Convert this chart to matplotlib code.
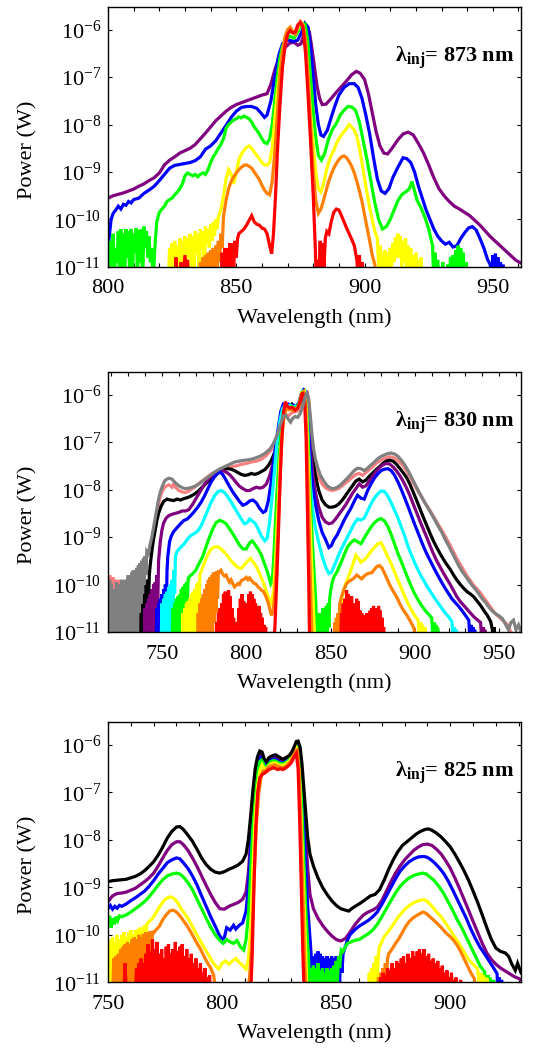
"""Supercontinuum-style spectra for three injection wavelengths (log power vs wavelength)."""

import matplotlib
matplotlib.use("Agg")
import matplotlib.pyplot as plt
import numpy as np
from matplotlib.ticker import MultipleLocator, LogLocator, NullLocator

plt.rcParams["font.family"] = "serif"
plt.rcParams["font.serif"] = ["Liberation Serif", "DejaVu Serif"]
plt.rcParams["mathtext.fontset"] = "custom"
plt.rcParams["mathtext.rm"] = "Liberation Serif"
plt.rcParams["mathtext.it"] = "Liberation Serif:italic"
plt.rcParams["mathtext.bf"] = "Liberation Serif:bold"

# colours used for the power steps
RED, ORANGE, YELLOW, GREEN = "#ff0000", "#ff8000", "#ffff00", "#00ff00"
CYAN, BLUE, PURPLE, BLACK = "#00ffff", "#0000ff", "#800080", "#000000"
SALMON, GRAY = "#f88080", "#808080"

# ---------------- panel 1 : lambda_inj = 873 nm  (wavelength nm, log10 W) ----------------
TOP_PURPLE = [(800,-9.55),(802,-9.50),(804,-9.47),(806,-9.44),(808,-9.40),(810,-9.36),(812,-9.30),(814,-9.25),
    (816,-9.18),(818,-9.12),(820,-9.02),(822,-8.85),(824,-8.75),(826,-8.68),(828,-8.60),(830,-8.55),(832,-8.50),
    (834,-8.42),(836,-8.30),(838,-8.18),(840,-8.05),(842,-7.92),(844,-7.82),(846,-7.72),(848,-7.64),(850,-7.58),
    (852,-7.54),(854,-7.50),(856,-7.46),(858,-7.42),(860,-7.38),(862,-7.35),(863.5,-7.15),(865,-6.85),(866.5,-6.62),
    (868,-6.45),(869.5,-6.35),(871,-6.28),(872.5,-6.27),(874,-6.33),(875.2,-6.30),(876.3,-6.12),(877.5,-5.95),
    (878.5,-6.05),(879.5,-6.40),(880.5,-6.80),(881.5,-7.20),(882.5,-7.45),(883.5,-7.58),(885,-7.57),(887,-7.45),
    (889,-7.32),(891,-7.20),(893,-7.08),(895,-6.95),(896.8,-6.88),(898.3,-6.92),(900,-7.05),(901.5,-7.35),
    (903,-7.75),(904.5,-8.15),(906,-8.45),(907.5,-8.60),(909,-8.62),(911,-8.48),(913,-8.32),(915,-8.20),
    (917,-8.16),(919,-8.22),(921,-8.40),(923,-8.60),(925,-8.85),(927,-9.12),(929,-9.35),(931,-9.50),(933,-9.62),
    (935,-9.72),(937,-9.78),(939,-9.85),(941,-9.92),(943,-10.02),(945,-10.12),(947,-10.24),(949,-10.36),
    (951,-10.46),(953,-10.56),(955,-10.66),(957,-10.76),(959,-10.86),(961,-10.92)]
TOP_BLUE = [(800,-10.6),(800.6,-10.3),(801.2,-10.0),(802,-9.87),(803,-9.80),(804,-9.72),(805,-9.78),(806,-9.68),
    (807,-9.70),(808,-9.62),(809,-9.65),(810,-9.58),(812,-9.55),(814,-9.45),(816,-9.38),(818,-9.30),(820,-9.18),
    (822,-9.05),(824,-8.92),(826,-8.86),(828,-8.84),(830,-8.82),(832,-8.80),(834,-8.76),(836,-8.68),(838,-8.52),
    (840,-8.45),(842,-8.34),(844,-8.18),(846,-8.02),(848,-7.85),(850,-7.72),(852,-7.64),(854,-7.62),(856,-7.62),
    (858,-7.66),(859.5,-7.75),(861,-7.85),(862,-7.80),(863.5,-7.50),(865,-7.00),(866.5,-6.55),(868,-6.30),
    (869.5,-6.22),(871,-6.23),(872.5,-6.25),(874,-6.22),(875.5,-6.05),(876.8,-5.87),(878,-5.95),(879,-6.40),
    (880,-7.00),(881,-7.60),(882,-8.00),(883,-8.22),(884,-8.25),(885.5,-8.12),(887,-7.85),(888.5,-7.60),
    (890,-7.38),(892,-7.22),(894,-7.14),(896,-7.14),(897.5,-7.22),(899,-7.45),(900.5,-7.80),(902,-8.20),
    (903.5,-8.70),(905,-9.15),(906.5,-9.40),(908,-9.45),(909.5,-9.35),(911,-9.12),(913,-8.90),(915,-8.70),
    (916.5,-8.72),(918,-8.80),(919.5,-9.00),(921,-9.30),(922.5,-9.55),(924,-9.80),(925.5,-10.0),(927,-10.20),
    (928.5,-10.35),(930,-10.45),(931.5,-10.52),(933,-10.48),(934.5,-10.58),(936,-10.55),(937.5,-10.40),
    (939,-10.28),(940.5,-10.18),(942,-10.15),(943.5,-10.22),(945,-10.40),(946.5,-10.60),(948,-10.85),
    (949,-10.95),(949.5,-11.3),(950,-10.75),(950.5,-11.3),(951,-10.72),(951.5,-11.3),(952,-10.8),(952.5,-11.3),
    (953,-10.9),(953.5,-11.3),(954,-10.95),(955,-11.3)]
TOP_GREEN = [(800,-10.55),(800.5,-11.3),(801,-10.45),(801.5,-11.3),(802,-10.3),(802.5,-11.3),(803,-10.6),
    (803.5,-10.9),(804,-10.25),(804.5,-11.3),(805,-10.2),(805.5,-11.3),(806,-10.3),(806.5,-11.3),(807,-10.2),
    (807.5,-10.8),(808,-10.25),(808.5,-11.3),(809,-10.2),(809.5,-11.3),(810,-10.3),(810.5,-10.7),(811,-10.18),
    (811.5,-11.3),(812,-10.22),(812.5,-10.9),(813,-10.2),(813.5,-11.3),(814,-10.15),(814.5,-10.6),(815,-10.25),
    (815.5,-10.8),(816,-10.35),(816.5,-10.9),(817,-10.6),(817.5,-11.3),(818,-10.85),(818.5,-10.4),(819,-10.05),
    (820,-9.85),(821,-9.78),(822,-9.72),(823,-9.62),(824,-9.58),(825,-9.55),(826,-9.48),(827,-9.42),(828,-9.35),
    (829,-9.25),(830,-9.08),(831,-9.02),(832,-9.05),(833,-9.08),(834,-9.05),(835,-9.10),(836,-9.05),(837,-9.02),
    (838,-9.05),(839,-8.95),(840,-8.80),(841,-8.68),(842,-8.60),(843,-8.50),(844,-8.42),(845,-8.30),(846,-8.08),
    (847,-8.00),(848,-7.95),(849,-7.90),(850,-7.88),(851,-7.84),(852,-7.86),(853,-7.82),(854,-7.85),(855,-7.88),
    (856,-7.95),(857,-8.05),(858,-8.12),(859,-8.20),(860,-8.30),(861,-8.38),(862,-8.40),(863,-8.30),(864,-8.00),
    (865,-7.50),(866,-7.00),(867,-6.60),(868,-6.35),(869.5,-6.20),(871,-6.14),(872.5,-6.18),(874,-6.05),
    (875.5,-5.88),(876.8,-5.88),(877.8,-6.20),(878.8,-6.90),(879.8,-7.60),(880.8,-8.20),(882,-8.65),(883.2,-8.75),
    (884.5,-8.60),(886,-8.30),(887.5,-8.10),(889,-7.98),(890.5,-7.80),(892,-7.70),(893.5,-7.62),(895,-7.63),
    (896.5,-7.70),(898,-7.95),(899.5,-8.35),(901,-8.75),(902.5,-9.20),(904,-9.65),(905.5,-10.00),(907,-10.20),
    (908.5,-10.15),(910,-10.00),(911.5,-9.80),(913,-9.60),(914.5,-9.48),(916,-9.42),(917.5,-9.35),(918.5,-9.20),
    (919.5,-9.40),(920.5,-9.60),(922,-9.75),(923.5,-9.95),(925,-10.20),(926.5,-10.55),(927,-11.3),(927.5,-10.7),
    (928,-11.3),(928.5,-10.85),(929,-11.3),(929.5,-11.0),(930,-11.3),(930.5,-10.9),(931,-11.3),(932,-11.3),
    (932.5,-10.95),(933,-11.3),(933.5,-10.8),(934,-11.3),(934.5,-10.75),(935,-11.3),(935.5,-10.65),(936,-11.3),
    (936.5,-10.55),(937,-11.3),(937.5,-10.6),(938,-11.3),(938.5,-10.7),(939,-11.3),(939.5,-10.9),(940,-11.3)]
TOP_YELLOW = [(823.5,-11.4),(824,-10.6),(824.5,-11.3),(825,-10.5),(825.5,-11.3),(826,-10.45),(826.5,-11.3),
    (827,-10.55),(827.5,-11.3),(828,-10.4),(828.5,-10.9),(829,-10.45),(829.5,-11.3),(830,-10.35),(830.5,-11.3),
    (831,-10.4),(831.5,-10.8),(832,-10.3),(832.5,-11.3),(833,-10.35),(833.5,-11.3),(834,-10.25),(834.5,-10.7),
    (835,-10.3),(835.5,-11.3),(836,-10.2),(836.5,-10.6),(837,-10.25),(837.5,-11.3),(838,-10.15),(838.5,-10.5),
    (839,-10.2),(839.5,-10.6),(840,-10.1),(840.5,-10.45),(841,-10.05),(841.5,-10.35),(842,-10.0),(842.5,-10.2),
    (843,-9.95),(844,-9.80),(845,-9.50),(846,-9.15),(847,-8.95),(848,-9.05),(849,-9.25),(850,-9.0),(851,-8.75),
    (852,-8.62),(853,-8.55),(854,-8.48),(855,-8.45),(856,-8.50),(857,-8.58),(858,-8.65),(859,-8.72),(860,-8.80),
    (861,-8.85),(862,-8.86),(863,-8.80),(864,-8.50),(865,-7.90),(866,-7.30),(867,-6.85),(868,-6.50),(869,-6.25),
    (870,-6.08),(871,-6.00),(872,-6.05),(873,-6.08),(874,-5.97),(875,-5.85),(876,-5.90),(877,-6.25),(878,-7.00),
    (879,-7.80),(880,-8.45),(881,-9.00),(882,-9.35),(883,-9.42),(884,-9.25),(885,-9.00),(886,-8.80),(887,-8.65),
    (888,-8.55),(889,-8.40),(890,-8.30),(891,-8.22),(892,-8.15),(893,-8.08),(894,-8.00),(895,-8.05),(896,-8.12),
    (897,-8.25),(898,-8.50),(899,-8.80),(900,-9.15),(901,-9.45),(902,-9.75),(903,-10.00),(904,-10.25),
    (905,-10.40),(905.5,-11.0),(906,-10.55),(906.5,-11.3),(907,-10.7),(907.5,-11.3),(908,-10.65),(908.5,-11.3),
    (909,-10.7),(909.5,-11.3),(910,-10.6),(910.5,-11.0),(911,-10.5),(911.5,-10.9),(912,-10.38),(912.5,-10.8),
    (913,-10.3),(913.5,-10.8),(914,-10.35),(914.5,-11.0),(915,-10.45),(915.5,-10.9),(916,-10.4),(916.5,-11.3),
    (917,-10.55),(917.5,-11.3),(918,-10.6),(918.5,-11.3),(919,-10.75),(919.5,-11.3),(920,-10.7),(920.5,-11.3),
    (921,-10.85),(921.5,-11.3),(922,-10.8),(922.5,-11.3),(923,-11.4)]
TOP_ORANGE = [(835.5,-11.4),(836,-10.9),(836.5,-11.3),(837,-10.8),(837.5,-11.3),(838,-10.75),(838.5,-11.3),
    (839,-10.7),(839.5,-11.3),(840,-10.65),(840.5,-11.3),(841,-10.6),(841.5,-11.3),(842,-10.55),(842.5,-11.0),
    (843,-10.45),(843.5,-10.9),(844,-10.3),(844.5,-10.6),(845,-9.95),(846,-9.60),(847,-9.35),(848,-9.20),
    (849,-9.10),(850,-9.02),(851,-8.95),(852,-8.90),(853,-8.86),(854,-8.85),(855,-8.88),(856,-8.92),(857,-9.00),
    (858,-9.08),(859,-9.16),(860,-9.28),(861,-9.38),(862,-9.45),(863,-9.48),(864,-9.20),(865,-8.60),(866,-7.80),
    (867,-6.95),(868,-6.45),(869,-6.15),(870,-6.00),(871,-5.95),(872,-6.05),(873,-6.10),(874,-5.95),(875,-5.83),
    (876,-5.90),(877,-6.20),(878,-7.00),(879,-8.00),(880,-9.00),(881,-9.60),(882,-9.87),(883,-9.78),(884,-9.60),
    (885,-9.40),(886,-9.20),(887,-9.05),(888,-8.92),(889,-8.82),(890,-8.74),(891,-8.68),(892,-8.66),(893,-8.70),
    (894,-8.78),(895,-8.88),(896,-9.02),(897,-9.20),(898,-9.40),(899,-9.62),(900,-9.90),(901,-10.18),
    (902,-10.45),(903,-10.75),(904,-10.95),(905,-11.4)]
TOP_RED = [(826,-11.4),(826.5,-10.8),(827,-11.4),(828,-11.4),(828.5,-10.9),(829,-11.4),(830,-10.75),
    (830.5,-11.4),(831,-10.85),(831.5,-11.4),(838,-11.4),(838.5,-11.1),(839,-11.4),(844,-11.4),(844.5,-10.7),
    (845,-11.3),(845.5,-10.6),(846,-11.3),(846.5,-10.6),(847,-11.3),(847.5,-10.5),(848,-11.3),(848.5,-10.5),
    (849,-11.0),(849.5,-10.45),(850,-10.8),(850.5,-10.4),(851,-10.3),(852,-10.25),(853,-10.20),(854,-10.12),
    (855,-10.02),(856,-9.92),(857,-10.05),(858,-10.10),(859,-10.12),(860,-10.18),(861,-10.20),(862,-10.30),
    (863,-10.55),(863.8,-10.72),(864.5,-10.30),(865.3,-9.50),(866,-8.60),(867,-7.60),(868,-6.80),(869,-6.35),
    (870,-6.10),(871,-6.02),(872,-6.07),(873,-6.05),(874,-5.90),(875,-5.85),(876,-5.95),(877,-6.50),(878,-7.40),
    (879,-8.40),(880,-9.50),(880.8,-10.60),(881.2,-11.3),(881.7,-10.85),(882.2,-11.3),(882.7,-10.45),
    (883.2,-11.3),(883.7,-10.5),(884.2,-11.0),(884.7,-10.4),(885.3,-10.25),(886.1,-10.30),(887,-10.05),
    (888,-9.85),(889,-9.78),(890,-9.80),(891,-9.92),(892,-10.05),(893,-10.18),(894,-10.30),(895,-10.42),
    (896,-10.55),(897,-10.85),(897.5,-11.3),(898,-10.75),(898.5,-11.3),(899,-10.9),(899.5,-11.3),(900,-11.0),
    (900.5,-11.4)]

# ---------------- panel 2 : lambda_inj = 830 nm ----------------
MID_GRAY = [(718,-10.3),(718.5,-11.3),(719,-9.9),(719.5,-11.3),(720,-10.0),(720.5,-11.3),(721,-10.2),
    (721.5,-11.3),(722,-10.1),(722.5,-11.3),(723,-9.95),(723.5,-11.3),(724,-10.3),(724.5,-11.3),(725,-10.0),
    (725.5,-11.3),(726,-9.9),(726.5,-11.3),(727,-10.1),(727.5,-11.3),(728,-9.9),(728.5,-11.3),(729,-9.95),
    (729.5,-11.3),(730,-9.8),(730.5,-11.3),(731,-9.85),(731.5,-11.3),(732,-9.75),(732.5,-11.0),(733,-9.7),
    (733.5,-11.3),(734,-9.75),(734.5,-10.8),(735,-9.65),(735.5,-11.3),(736,-9.6),(736.5,-10.6),(737,-9.55),
    (737.5,-10.4),(738,-9.5),(738.5,-10.2),(739,-9.45),(739.5,-10.0),(740,-9.4),(740.5,-9.8),(741,-9.3),
    (742,-9.35),(743,-9.15),(744,-9.0),(745,-8.8),(746,-8.6),(747,-8.4),(748,-8.2),(749,-8.05),(750,-7.95),
    (751,-7.86),(752,-7.80),(753,-7.78),(754,-7.76),(755,-7.77),(756,-7.78),(757,-7.82),(758,-7.86),(760,-7.92),
    (762,-7.96),(764,-7.98),(766,-7.97),(768,-7.95),(770,-7.92),(772,-7.88),(775,-7.80),(778,-7.72),(781,-7.64),
    (784,-7.57),(787,-7.52),(790,-7.47),(793,-7.42),(796,-7.40),(799,-7.38),(802,-7.37),(805,-7.34),(808,-7.30),
    (811,-7.24),(814,-7.15),(816,-7.04),(818,-6.88),(820,-6.66),(822,-6.45),(823.5,-6.44),(825,-6.52),
    (826.3,-6.58),(827.5,-6.50),(829,-6.46),(830.5,-6.48),(832,-6.40),(833.5,-6.25),(835,-6.05),(836,-5.95),
    (837,-6.10),(838,-6.45),(839,-6.85),(840,-7.15),(841,-7.35),(842.5,-7.55),(844,-7.70),(846,-7.82),(848,-7.92),
    (850,-7.97),(852,-7.98),(854,-7.95),(856,-7.90),(858,-7.83),(860,-7.76),(862,-7.68),(864,-7.60),(866,-7.55),
    (868,-7.56),(870,-7.60),(872,-7.55),(874,-7.48),(876,-7.42),(878,-7.35),(880,-7.30),(882,-7.27),(884,-7.24),
    (886,-7.23),(888,-7.25),(890,-7.30),(892,-7.38),(894,-7.48),(896,-7.60),(898,-7.74),(900,-7.88),(902,-8.02),
    (904,-8.15),(906,-8.28),(908,-8.40),(910,-8.52),(912,-8.65),(914,-8.78),(916,-8.90),(918,-9.05),(920,-9.18),
    (922,-9.32),(924,-9.46),(926,-9.60),(928,-9.72),(930,-9.82),(932,-9.92),(934,-10.02),(936,-10.10),
    (938,-10.20),(940,-10.30),(942,-10.38),(944,-10.48),(946,-10.56),(948,-10.62),(950,-10.66),(952,-10.72),
    (954,-10.85),(955.5,-10.95),(957,-10.80),(958.5,-10.75),(960,-10.95),(961.5,-10.85),(963,-11.0)]
MID_SALMON = [(718,-9.85),(718.5,-11.3),(719,-9.8),(719.5,-11.3),(720,-9.9),(720.5,-11.3),(721,-9.85),
    (721.5,-11.3),(722,-10.0),(722.5,-11.3),(723,-9.9),(723.5,-11.3),(724,-10.1),(724.5,-11.3),(725,-9.9),
    (725.5,-11.3),(726,-9.95),(726.5,-11.3),(727,-10.2),(727.5,-11.3),(728,-9.95),(728.5,-11.3),(729,-9.9),
    (729.5,-11.3),(730,-9.85),(730.5,-11.3),(731,-9.9),(731.5,-11.3),(732,-9.8),(732.5,-11.3),(733,-9.75),
    (733.5,-11.3),(734,-9.7),(734.5,-11.0),(735,-9.65),(735.5,-10.8),(736,-9.65),(736.5,-10.5),(737,-9.6),
    (737.5,-10.2),(738,-9.6),(739,-9.5),(740,-9.55),(741,-9.4),(742,-9.3),(743,-9.2),(744,-9.05),(745,-8.9),
    (746,-8.7),(747,-8.5),(748,-8.3),(749,-8.15),(750,-8.05),(751,-7.98),(752,-7.94),(753,-7.92),(754,-7.90),
    (755,-7.92),(756,-7.95),(757,-7.88),(758,-7.95),(760,-8.02),(762,-8.05),(764,-8.06),(766,-8.03),(768,-7.98),
    (770,-7.93),(773,-7.84),(776,-7.76),(779,-7.68),(782,-7.62),(785,-7.58),(788,-7.55),(791,-7.52),(794,-7.50),
    (797,-7.47),(800,-7.45),(803,-7.42),(806,-7.40),(809,-7.36),(812,-7.28),(815,-7.15),(817,-7.00),(819,-6.80),
    (821,-6.55),(823,-6.40),(825,-6.45),(827,-6.38),(829,-6.36),(831,-6.34),(833,-6.20),(835,-6.00),(836,-5.92),
    (837,-6.10),(838,-6.55),(839,-7.00),(840,-7.30),(841.5,-7.55),(843,-7.75),(845,-7.88),(847,-7.96),(849,-8.00),
    (851,-8.02),(853,-8.00),(855,-7.97),(857,-7.92),(859,-7.86),(861,-7.80),(863,-7.74),(865,-7.68),(867,-7.66),
    (869,-7.70),(871,-7.64),(873,-7.58),(875,-7.52),(877,-7.45),(879,-7.40),(881,-7.36),(883,-7.33),(885,-7.31),
    (887,-7.32),(889,-7.36),(891,-7.42),(893,-7.50),(895,-7.60),(897,-7.72),(899,-7.85),(901,-7.98),(903,-8.10),
    (905,-8.22),(907,-8.33),(909,-8.44),(911,-8.56),(913,-8.68),(915,-8.80),(917,-8.92),(919,-9.05),(921,-9.18),
    (923,-9.32),(925,-9.46),(927,-9.58),(929,-9.70),(931,-9.82),(933,-9.92),(935,-10.02),(937,-10.10),
    (939,-10.18),(941,-10.28),(943,-10.38),(945,-10.48),(947,-10.58),(949,-10.65),(951,-10.72),(953,-10.78),
    (955,-10.85),(957,-11.0),(958.5,-11.3)]
MID_BLACK = [(733,-11.3),(733.5,-10.7),(734,-11.3),(734.5,-10.6),(735,-11.3),(735.5,-10.5),(736,-11.3),
    (736.5,-10.4),(737,-11.3),(737.5,-10.3),(738,-11.3),(738.5,-10.2),(739,-11.3),(739.5,-10.1),(740,-11.3),
    (740.5,-10.0),(741,-11.0),(741.5,-9.9),(742,-10.4),(742.5,-9.8),(743,-9.6),(744,-9.3),(745,-9.05),(746,-8.85),
    (747,-8.65),(748,-8.5),(749.5,-8.35),(751,-8.25),(753,-8.20),(755,-8.22),(757,-8.23),(759,-8.20),(761,-8.22),
    (763,-8.19),(765,-8.17),(767,-8.14),(769,-8.10),(771,-8.05),(773,-7.98),(775,-7.91),(777,-7.84),(779,-7.78),
    (781,-7.72),(783,-7.66),(785,-7.60),(787,-7.57),(789,-7.56),(791,-7.57),(793,-7.60),(795,-7.64),(797,-7.68),
    (799,-7.70),(801,-7.69),(803,-7.66),(805,-7.68),(807,-7.66),(809,-7.62),(811,-7.58),(813,-7.50),(815,-7.38),
    (817,-7.20),(819,-6.95),(821,-6.65),(822.5,-6.35),(824,-6.22),(825.5,-6.25),(827,-6.20),(828.5,-6.27),
    (830,-6.22),(831.5,-6.20),(833,-6.08),(834.5,-5.95),(835.5,-5.97),(836.5,-6.20),(837.5,-6.70),(838.5,-7.10),
    (839.5,-7.38),(841,-7.70),(843,-8.02),(845,-8.22),(847,-8.32),(849,-8.37),(851,-8.37),(853,-8.35),(855,-8.30),
    (857,-8.22),(859,-8.12),(861,-8.02),(863,-7.92),(865,-7.82),(867,-7.78),(869,-7.84),(871,-7.80),(873,-7.72),
    (875,-7.65),(877,-7.58),(879,-7.52),(881,-7.45),(883,-7.40),(885,-7.38),(887,-7.40),(889,-7.46),(891,-7.55),
    (893,-7.64),(895,-7.74),(897,-7.88),(899,-8.05),(901,-8.22),(903,-8.40),(905,-8.58),(907,-8.75),(909,-8.92),
    (911,-9.08),(913,-9.22),(915,-9.35),(917,-9.47),(919,-9.58),(921,-9.68),(923,-9.80),(925,-9.91),(927,-10.00),
    (929,-10.08),(931,-10.15),(933,-10.20),(935,-10.26),(937,-10.35),(939,-10.44),(941,-10.55),(943,-10.65),
    (945,-10.78),(946,-10.95),(946.5,-11.3),(947,-10.9),(947.5,-11.3),(948,-11.0),(948.5,-11.3)]
MID_PURPLE = [(739.5,-11.3),(740,-10.5),(740.5,-11.3),(741,-10.4),(741.5,-11.3),(742,-10.3),(742.5,-11.3),
    (743,-10.2),(743.5,-11.3),(744,-10.1),(744.5,-11.3),(745,-10.0),(745.5,-11.3),(746,-9.95),(746.5,-11.0),
    (747,-9.8),(747.5,-10.4),(748,-9.5),(749,-9.1),(750,-8.85),(751,-8.70),(752.5,-8.60),(754,-8.55),(756,-8.52),
    (758,-8.50),(760,-8.48),(762,-8.45),(764,-8.45),(766,-8.42),(768,-8.32),(770,-8.20),(772,-8.08),(774,-7.96),
    (776,-7.85),(778,-7.76),(780,-7.68),(782,-7.63),(784,-7.60),(786,-7.60),(788,-7.63),(790,-7.68),(792,-7.76),
    (794,-7.85),(796,-7.93),(798,-7.98),(800,-8.02),(802,-8.02),(804,-7.98),(806,-7.95),(808,-7.97),(810,-7.95),
    (812,-7.88),(814,-7.70),(816,-7.42),(818,-7.00),(820,-6.60),(821.5,-6.30),(823,-6.22),(824.5,-6.25),
    (826,-6.22),(827.5,-6.28),(829,-6.25),(830.5,-6.27),(832,-6.18),(833.5,-5.98),(834.5,-5.92),(835.5,-5.98),
    (836.5,-6.30),(837.5,-6.85),(838.5,-7.30),(839.5,-7.70),(841,-8.05),(843,-8.37),(845,-8.58),(847,-8.68),
    (849,-8.72),(851,-8.70),(853,-8.62),(855,-8.52),(857,-8.42),(859,-8.32),(861,-8.20),(863,-8.08),(865,-7.98),
    (867,-7.88),(869,-7.95),(871,-7.92),(873,-7.82),(875,-7.72),(877,-7.62),(879,-7.54),(881,-7.48),(883,-7.45),
    (885,-7.46),(887,-7.52),(889,-7.60),(891,-7.70),(893,-7.82),(895,-7.96),(897,-8.12),(899,-8.30),(901,-8.48),
    (903,-8.66),(905,-8.83),(907,-9.00),(909,-9.18),(911,-9.35),(913,-9.50),(915,-9.63),(917,-9.76),(919,-9.88),
    (921,-10.00),(923,-10.13),(925,-10.26),(927,-10.36),(929,-10.44),(931,-10.52),(933,-10.60),(935,-10.68),
    (937,-10.74),(939,-10.80),(940,-11.3),(940.5,-10.9),(941,-11.3),(941.5,-10.95),(942.5,-11.3)]
MID_BLUE = [(746.5,-11.3),(747,-10.5),(747.5,-11.3),(748,-10.4),(748.5,-11.3),(749,-10.3),(749.5,-11.3),
    (750,-10.2),(750.5,-11.3),(751,-10.1),(751.5,-11.3),(752,-10.0),(752.5,-10.8),(753,-9.7),(753.5,-9.4),
    (754.5,-9.1),(755.5,-8.98),(757,-8.88),(759,-8.80),(761,-8.72),(763,-8.65),(765,-8.62),(767,-8.55),
    (769,-8.47),(771,-8.38),(773,-8.28),(775,-8.15),(777,-8.00),(779,-7.85),(781,-7.74),(783,-7.66),(784.5,-7.63),
    (786,-7.68),(788,-7.80),(790,-7.93),(792,-8.05),(794,-8.15),(796,-8.25),(798,-8.33),(800,-8.30),(802,-8.24),
    (804,-8.22),(806,-8.28),(808,-8.40),(810,-8.48),(811.5,-8.45),(813,-8.25),(815,-7.80),(817,-7.20),(819,-6.70),
    (820.5,-6.35),(822,-6.20),(823.5,-6.22),(825,-6.20),(826.5,-6.25),(828,-6.22),(829.5,-6.26),(831,-6.20),
    (832.5,-6.00),(834,-5.90),(835.5,-5.95),(836.5,-6.40),(837.5,-7.10),(838.5,-7.60),(839.5,-7.95),(841,-8.30),
    (843,-8.65),(845,-8.90),(847,-9.05),(849,-9.22),(850.5,-9.18),(852,-9.06),(854,-8.95),(856,-8.80),(858,-8.65),
    (860,-8.52),(862,-8.40),(864,-8.25),(866,-8.12),(868,-8.18),(870,-8.20),(872,-8.02),(874,-7.88),(876,-7.76),
    (878,-7.67),(880,-7.60),(882,-7.57),(884,-7.56),(886,-7.60),(888,-7.70),(890,-7.84),(892,-8.00),(894,-8.18),
    (896,-8.36),(898,-8.55),(900,-8.74),(902,-8.92),(904,-9.10),(906,-9.27),(908,-9.42),(910,-9.56),(912,-9.70),
    (914,-9.83),(916,-9.96),(918,-10.08),(920,-10.19),(922,-10.30),(924,-10.38),(926,-10.46),(928,-10.55),
    (930,-10.65),(932,-10.75),(933,-11.3),(933.5,-10.85),(934,-11.3),(934.5,-10.9),(935,-11.3),(935.5,-10.95),
    (937,-11.3)]
MID_CYAN = [(749.5,-11.3),(750,-10.4),(750.5,-11.3),(751,-10.3),(751.5,-11.3),(752,-10.2),(752.5,-11.3),
    (753,-10.15),(753.5,-11.3),(754,-10.05),(754.5,-11.3),(755,-10.0),(755.5,-11.3),(756,-9.9),(756.5,-10.8),
    (757,-9.7),(757.5,-10.2),(758,-9.40),(759,-9.30),(761,-9.22),(763,-9.15),(765,-9.05),(767,-8.97),(769,-8.93),
    (771,-8.88),(773,-8.78),(775,-8.62),(777,-8.45),(779,-8.28),(781,-8.14),(783,-8.05),(785,-8.02),(787,-8.06),
    (789,-8.15),(791,-8.26),(793,-8.38),(795,-8.50),(797,-8.62),(799,-8.72),(800.5,-8.70),(802,-8.62),
    (803.5,-8.66),(805,-8.70),(807,-8.82),(809,-8.98),(811,-9.08),(812.5,-9.02),(814,-8.65),(816,-7.90),
    (818,-7.10),(820,-6.55),(821.5,-6.30),(823,-6.22),(824.5,-6.25),(826,-6.22),(827.5,-6.27),(829,-6.24),
    (830.5,-6.26),(832,-6.10),(833.5,-5.93),(835,-5.95),(836,-6.40),(837,-7.20),(838,-7.90),(839.5,-8.45),
    (841,-8.80),(843,-9.12),(845,-9.40),(847,-9.62),(849,-9.77),(850.5,-9.74),(852,-9.62),(854,-9.45),(856,-9.28),
    (858,-9.14),(860,-9.00),(862,-8.86),(864,-8.72),(866,-8.62),(868,-8.64),(870,-8.60),(872,-8.45),(874,-8.30),
    (876,-8.18),(878,-8.09),(880,-8.03),(882,-8.04),(884,-8.14),(886,-8.28),(888,-8.44),(890,-8.60),(892,-8.79),
    (894,-8.98),(896,-9.20),(898,-9.38),(900,-9.55),(902,-9.70),(904,-9.84),(906,-9.96),(908,-10.08),
    (910,-10.19),(912,-10.30),(914,-10.40),(916,-10.50),(918,-10.60),(920,-10.68),(922,-10.78),(923,-11.3),
    (923.5,-10.9),(924,-11.3),(924.5,-10.95),(925.5,-11.3),(926,-11.0),(927,-11.3)]
MID_GREEN = [(756,-11.3),(756.5,-10.5),(757,-11.3),(757.5,-10.4),(758,-11.3),(758.5,-10.3),(759,-11.3),
    (759.5,-10.25),(760,-11.3),(760.5,-10.2),(761,-11.3),(761.5,-10.1),(762,-11.3),(762.5,-10.05),(763,-11.3),
    (763.5,-10.0),(764,-11.0),(764.5,-9.95),(765,-10.5),(765.5,-9.9),(766,-9.84),(768,-9.78),(770,-9.70),
    (772,-9.56),(774,-9.42),(776,-9.22),(778,-9.02),(780,-8.84),(782,-8.70),(784,-8.65),(786,-8.67),(788,-8.72),
    (790,-8.82),(792,-8.93),(794,-9.05),(796,-9.17),(798,-9.25),(800,-9.25),(802,-9.12),(803.5,-9.08),
    (805,-9.15),(807,-9.25),(809,-9.38),(811,-9.58),(813,-9.78),(814.5,-9.98),(815.5,-9.90),(816.5,-9.30),
    (818,-8.20),(819.5,-7.30),(821,-6.70),(822.5,-6.35),(824,-6.25),(825.5,-6.28),(827,-6.25),(828.5,-6.30),
    (830,-6.26),(831.5,-6.20),(833,-5.95),(834.5,-5.92),(835.5,-6.10),(836.5,-6.80),(837.5,-7.80),(838.5,-8.60),
    (839.5,-9.30),(840.5,-9.90),(841.3,-10.4),(842,-11.3),(842.5,-10.6),(843,-11.3),(843.5,-10.7),(844,-11.3),
    (844.5,-10.6),(845,-11.3),(845.5,-10.5),(846,-11.3),(846.5,-10.55),(847,-11.3),(847.5,-10.45),(848,-11.3),
    (848.5,-10.4),(849,-10.9),(849.5,-10.3),(850,-10.15),(851,-9.95),(852,-9.84),(854,-9.72),(856,-9.56),
    (858,-9.38),(860,-9.21),(862,-9.12),(864,-9.06),(866,-9.10),(868,-9.14),(870,-9.02),(872,-8.90),(874,-8.79),
    (876,-8.70),(878,-8.64),(880,-8.61),(882,-8.66),(884,-8.78),(886,-8.95),(888,-9.15),(890,-9.35),(892,-9.52),
    (894,-9.70),(896,-9.88),(898,-10.05),(900,-10.20),(902,-10.33),(904,-10.44),(906,-10.54),(908,-10.62),
    (910,-10.70),(911,-11.3),(911.5,-10.8),(912,-11.3),(912.5,-10.85),(913,-11.3),(913.5,-10.9),(915,-11.3)]
MID_YELLOW = [(762,-11.3),(762.5,-10.6),(763,-11.3),(763.5,-10.5),(764,-11.3),(764.5,-10.4),(765,-11.3),
    (765.5,-10.35),(766,-11.3),(766.5,-10.3),(767,-11.3),(767.5,-10.2),(768,-11.3),(768.5,-10.15),(769,-11.3),
    (769.5,-10.1),(770,-11.3),(770.5,-10.0),(771,-11.0),(771.5,-9.95),(772,-10.6),(772.5,-9.8),(773.5,-9.70),
    (775,-9.56),(777,-9.38),(779,-9.26),(781,-9.21),(783,-9.20),(785,-9.25),(787,-9.32),(789,-9.40),(791,-9.50),
    (793,-9.58),(795,-9.64),(797,-9.66),(799,-9.58),(801,-9.50),(802.5,-9.45),(804,-9.52),(806,-9.62),(808,-9.78),
    (810,-9.95),(812,-10.15),(813.5,-10.30),(815,-10.40),(816.3,-10.10),(817.5,-9.40),(818.8,-8.40),(820,-7.40),
    (821.3,-6.80),(822.5,-6.40),(824,-6.26),(825.5,-6.30),(827,-6.27),(828.5,-6.32),(830,-6.28),(831.5,-6.22),
    (833,-5.96),(834.5,-5.93),(835.5,-6.20),(836.5,-7.20),(837.5,-8.30),(838.5,-9.30),(839.5,-10.20),
    (840.3,-10.9),(841,-11.3),(853,-11.3),(853.5,-10.7),(854,-11.3),(854.5,-10.6),(855,-11.3),(855.5,-10.45),
    (856,-10.9),(856.5,-10.3),(857.5,-10.15),(859,-9.98),(860.5,-9.85),(862,-9.70),(863.5,-9.55),(865,-9.38),
    (866.5,-9.45),(868,-9.53),(870,-9.48),(872,-9.40),(874,-9.30),(876,-9.22),(878,-9.14),(880,-9.12),(882,-9.26),
    (884,-9.42),(886,-9.56),(888,-9.74),(890,-9.91),(892,-10.08),(894,-10.25),(896,-10.40),(898,-10.54),
    (900,-10.66),(902,-10.75),(903,-11.3),(903.5,-10.8),(904,-11.3),(904.5,-10.85),(905.5,-11.3),(906,-10.9),
    (907,-11.3)]
MID_ORANGE = [(771,-11.3),(771.5,-10.6),(772,-11.3),(772.5,-10.4),(773,-11.3),(773.5,-10.3),(774,-11.3),
    (774.5,-10.2),(775,-11.3),(775.5,-10.1),(776,-11.3),(776.5,-10.0),(777,-11.3),(777.5,-9.9),(778,-11.3),
    (778.5,-9.85),(779,-11.3),(779.5,-9.8),(780,-11.0),(780.5,-9.75),(781,-10.8),(781.5,-9.75),(782,-10.6),
    (782.5,-9.72),(783,-10.3),(783.5,-9.7),(784,-9.74),(785,-9.70),(786,-9.78),(787,-9.82),(788,-9.80),
    (789,-9.88),(790,-9.95),(791,-9.90),(792,-9.98),(793,-10.05),(794,-10.02),(795,-9.98),(796,-10.00),
    (797,-9.92),(798,-9.90),(799,-9.88),(800,-9.85),(801,-9.90),(802,-9.86),(803,-9.91),(804,-9.95),(805,-9.98),
    (806,-10.00),(807,-10.05),(808,-10.08),(809,-10.12),(810,-10.14),(811,-10.20),(812,-10.28),(813,-10.38),
    (814,-10.52),(815,-10.65),(816,-10.55),(817,-10.20),(818,-9.50),(819,-8.70),(820,-7.80),(821,-7.00),
    (822,-6.55),(823.5,-6.30),(825,-6.32),(826.5,-6.30),(828,-6.34),(829.5,-6.30),(831,-6.25),(832.5,-6.02),
    (834,-5.95),(835.2,-6.15),(836.3,-7.40),(837.3,-8.80),(838.2,-10.1),(839,-11.3),(852,-11.3),(852.5,-10.8),
    (853,-11.3),(853.5,-10.7),(854,-11.3),(854.5,-10.6),(855,-11.0),(855.5,-10.4),(856.5,-10.26),(858,-10.10),
    (859.5,-9.98),(861,-9.93),(862.5,-9.90),(864,-9.86),(865.5,-9.80),(867,-9.84),(868.5,-9.88),(870,-9.82),
    (871.5,-9.78),(873,-9.76),(874.5,-9.75),(876,-9.68),(877.5,-9.62),(879,-9.60),(880.5,-9.65),(882,-9.76),
    (883.5,-9.88),(885,-10.00),(886.5,-10.10),(888,-10.19),(889.5,-10.28),(891,-10.40),(892.5,-10.50),
    (894,-10.58),(895.5,-10.66),(897,-10.75),(898.5,-10.85),(899.5,-10.92),(901,-11.3)]
MID_RED = [(782,-11.3),(782.5,-10.8),(783,-11.3),(783.5,-10.6),(784,-11.3),(784.5,-10.5),(785,-11.3),
    (785.5,-10.4),(786,-11.3),(786.5,-10.2),(787,-11.3),(787.5,-10.15),(788,-11.3),(788.5,-10.3),(789,-11.3),
    (789.5,-10.12),(790,-11.3),(790.5,-10.25),(791,-11.3),(791.5,-10.5),(792,-11.3),(792.5,-10.7),(793,-11.3),
    (793.5,-10.9),(794,-11.3),(794.5,-10.8),(795,-11.3),(795.5,-10.5),(796,-11.3),(796.5,-10.3),(797,-11.3),
    (797.5,-10.2),(798,-11.3),(798.5,-10.35),(799,-11.3),(799.5,-10.6),(800,-11.3),(800.5,-10.4),(801,-11.3),
    (801.5,-10.2),(802,-11.3),(802.5,-10.15),(803,-11.3),(803.5,-10.2),(804,-11.3),(804.5,-10.3),(805,-11.3),
    (805.5,-10.4),(806,-11.3),(806.5,-10.5),(807,-11.3),(807.5,-10.45),(808,-11.3),(808.5,-10.6),(809,-11.3),
    (809.5,-10.7),(810,-11.3),(810.5,-10.85),(811,-11.3),(811.5,-10.9),(812,-11.3),(812.5,-11.0),(813,-11.3),
    (814,-11.3),(815,-11.0),(816,-11.3),(817,-10.9),(818,-10.0),(819,-9.00),(820,-7.90),(821,-7.00),(822,-6.40),
    (823.2,-6.15),(824.5,-6.25),(826,-6.28),(827.5,-6.27),(829,-6.33),(830.5,-6.28),(832,-6.15),(833.3,-5.95),
    (834.5,-6.05),(835.5,-6.90),(836.3,-8.40),(837,-9.80),(837.6,-11.3),(856,-11.3),(856.5,-10.6),(857,-11.3),
    (857.5,-10.4),(858,-11.3),(858.5,-10.3),(859,-11.3),(859.5,-10.12),(860,-11.3),(860.5,-10.2),(861,-11.3),
    (861.5,-10.35),(862,-11.3),(862.5,-10.25),(863,-11.3),(863.5,-10.4),(864,-11.3),(864.5,-10.5),(865,-11.3),
    (865.5,-10.3),(866,-11.3),(866.5,-10.35),(867,-11.3),(867.5,-10.55),(868,-11.3),(868.5,-10.6),(869,-11.3),
    (869.5,-10.7),(870,-11.3),(870.5,-10.65),(871,-11.3),(871.5,-10.6),(872,-11.3),(872.5,-10.7),(873,-11.3),
    (873.5,-10.55),(874,-11.3),(874.5,-10.5),(875,-11.3),(875.5,-10.45),(876,-11.3),(876.5,-10.6),(877,-11.3),
    (877.5,-10.5),(878,-11.3),(878.5,-10.45),(879,-11.3),(879.5,-10.55),(880,-11.3),(880.5,-10.7),(881,-11.3),
    (881.5,-10.9),(882,-11.3)]

# ---------------- panel 3 : lambda_inj = 825 nm ----------------
BOT_BLACK = [(750,-8.88),(752,-8.86),(754,-8.85),(756,-8.84),(758,-8.83),(760,-8.80),(762,-8.77),(764,-8.72),
    (766,-8.65),(768,-8.56),(770,-8.46),(772,-8.32),(774,-8.15),(776,-7.96),(778,-7.82),(780,-7.73),(781.5,-7.72),
    (783,-7.78),(785,-7.90),(787,-8.03),(789,-8.20),(791,-8.38),(793,-8.52),(795,-8.62),(797,-8.68),(799,-8.70),
    (801,-8.67),(803,-8.62),(805,-8.58),(807,-8.53),(809,-8.45),(810.5,-8.30),(811.5,-8.00),(812.5,-7.50),
    (813.5,-6.95),(814.5,-6.50),(815.5,-6.25),(816.5,-6.13),(817.5,-6.15),(818.5,-6.30),(819.5,-6.35),
    (820.5,-6.27),(821.5,-6.24),(822.5,-6.22),(823.5,-6.21),(824.5,-6.24),(825.5,-6.27),(826.5,-6.30),
    (827.5,-6.28),(828.5,-6.25),(829.5,-6.22),(830.5,-6.15),(831.5,-6.05),(832.5,-5.93),(833.3,-5.92),
    (834.2,-6.05),(835,-6.40),(835.8,-6.90),(836.6,-7.40),(837.5,-7.95),(838.5,-8.30),(840,-8.55),(842,-8.80),
    (844,-9.00),(846,-9.15),(848,-9.28),(850,-9.38),(852,-9.45),(854,-9.48),(855.5,-9.50),(857,-9.44),(859,-9.38),
    (861,-9.32),(863,-9.25),(865,-9.18),(867,-9.15),(869,-9.05),(871,-8.85),(873,-8.62),(875,-8.42),(877,-8.25),
    (879,-8.12),(881,-8.04),(883,-7.96),(885,-7.88),(887,-7.82),(889,-7.78),(890.5,-7.77),(892,-7.80),
    (894,-7.86),(896,-7.94),(898,-8.04),(900,-8.15),(902,-8.30),(904,-8.47),(906,-8.65),(908,-8.85),(910,-9.08),
    (912,-9.32),(914,-9.58),(916,-9.85),(918,-10.10),(920,-10.28),(922,-10.35),(924,-10.38),(925.5,-10.45),
    (927,-10.62),(928.5,-10.75),(929.5,-10.60),(931,-10.80)]
BOT_PURPLE = [(750,-9.30),(752,-9.18),(754,-9.13),(756,-9.12),(758,-9.10),(760,-9.06),(762,-9.02),(764,-8.95),
    (766,-8.88),(768,-8.80),(770,-8.70),(772,-8.55),(774,-8.38),(776,-8.22),(778,-8.10),(780,-8.04),(781.5,-8.04),
    (783,-8.10),(785,-8.22),(787,-8.38),(789,-8.56),(791,-8.76),(793,-8.96),(795,-9.15),(797,-9.32),(799,-9.45),
    (801,-9.46),(803,-9.40),(805,-9.36),(807,-9.32),(809,-9.25),(810.5,-9.10),(811.5,-8.70),(812.5,-8.00),
    (813.5,-7.20),(814.5,-6.65),(815.5,-6.35),(816.5,-6.18),(817.5,-6.22),(818.5,-6.38),(819.5,-6.40),
    (820.5,-6.32),(821.5,-6.28),(822.5,-6.26),(823.5,-6.27),(824.5,-6.30),(825.5,-6.32),(826.5,-6.34),
    (827.5,-6.32),(828.5,-6.29),(829.5,-6.25),(830.5,-6.18),(831.5,-6.08),(832.5,-5.96),(833.3,-5.96),
    (834.2,-6.20),(835,-6.70),(835.8,-7.30),(836.6,-7.90),(837.5,-8.60),(838.5,-9.15),(840,-9.45),(842,-9.65),
    (844,-9.80),(846,-9.92),(848,-10.02),(850,-10.10),(852,-10.13),(854,-10.08),(856,-9.95),(858,-9.80),
    (860,-9.68),(862,-9.58),(864,-9.52),(866,-9.48),(868,-9.42),(870,-9.28),(872,-9.08),(874,-8.88),(876,-8.70),
    (878,-8.55),(880,-8.42),(882,-8.32),(884,-8.22),(886,-8.15),(888,-8.10),(890,-8.09),(892,-8.12),(894,-8.20),
    (896,-8.30),(898,-8.44),(900,-8.60),(902,-8.80),(904,-9.02),(906,-9.25),(908,-9.48),(910,-9.72),(912,-9.95),
    (914,-10.18),(916,-10.38),(918,-10.52),(920,-10.62),(922,-10.70),(924,-10.76),(926,-10.82),(928,-10.88),
    (930,-10.92),(931,-10.95)]
BOT_BLUE = [(750,-9.45),(751,-9.38),(752,-9.46),(753,-9.40),(754,-9.44),(755,-9.38),(756,-9.40),(758,-9.35),
    (760,-9.28),(762,-9.22),(764,-9.15),(766,-9.08),(768,-8.98),(770,-8.86),(772,-8.72),(774,-8.60),(776,-8.48),
    (778,-8.42),(780,-8.38),(781.5,-8.40),(783,-8.48),(785,-8.60),(787,-8.76),(789,-8.95),(791,-9.18),(793,-9.40),
    (795,-9.62),(797,-9.82),(798.5,-9.98),(800,-10.10),(801,-10.05),(802,-9.85),(803.5,-9.90),(805,-9.80),
    (806,-9.88),(807.5,-9.80),(809,-9.75),(810.5,-9.50),(811.5,-9.00),(812.5,-8.20),(813.5,-7.40),(814.5,-6.80),
    (815.5,-6.45),(816.5,-6.25),(817.5,-6.28),(818.5,-6.42),(819.5,-6.44),(820.5,-6.36),(821.5,-6.32),
    (822.5,-6.30),(823.5,-6.31),(824.5,-6.34),(825.5,-6.36),(826.5,-6.38),(827.5,-6.36),(828.5,-6.32),
    (829.5,-6.28),(830.5,-6.22),(831.5,-6.10),(832.5,-5.98),(833.3,-6.00),(834.2,-6.30),(835,-6.95),(835.8,-7.70),
    (836.6,-8.50),(837.5,-9.40),(838.3,-9.95),(839,-10.40),(839.5,-11.3),(840,-10.45),(840.5,-11.3),(841,-10.4),
    (841.5,-11.3),(842,-10.35),(842.5,-11.3),(843,-10.4),(843.5,-11.3),(844,-10.45),(844.5,-11.3),(845,-10.5),
    (845.5,-11.3),(846,-10.45),(846.5,-11.3),(847,-10.5),(847.5,-11.3),(848,-10.45),(848.5,-11.3),(849,-10.5),
    (849.5,-11.3),(850,-10.45),(850.5,-11.3),(851,-10.5),(851.5,-11.0),(852,-10.4),(852.5,-10.8),(853,-10.4),
    (854,-10.25),(855,-10.10),(856,-10.00),(857,-9.95),(858,-9.90),(860,-9.82),(862,-9.76),(864,-9.70),
    (866,-9.62),(868,-9.52),(870,-9.36),(872,-9.18),(874,-9.00),(876,-8.82),(878,-8.66),(880,-8.55),(882,-8.46),
    (884,-8.40),(886,-8.36),(888,-8.35),(889.5,-8.36),(891,-8.40),(893,-8.48),(895,-8.58),(897,-8.70),
    (899,-8.86),(901,-9.05),(903,-9.25),(905,-9.45),(907,-9.65),(909,-9.88),(911,-10.08),(913,-10.26),
    (915,-10.40),(917,-10.55),(919,-10.70),(920.5,-10.82),(921,-11.3),(921.5,-10.9),(922,-11.3),(922.5,-10.95),
    (923.5,-11.3)]
BOT_GREEN = [(750,-9.70),(750.7,-9.60),(751.4,-9.85),(752.1,-9.65),(752.8,-9.78),(753.5,-9.62),(754.2,-9.70),
    (755,-9.60),(756,-9.62),(758,-9.58),(760,-9.52),(762,-9.45),(764,-9.38),(766,-9.30),(768,-9.20),(770,-9.08),
    (772,-8.95),(774,-8.84),(776,-8.76),(778,-8.72),(780,-8.70),(781.5,-8.72),(783,-8.78),(785,-8.90),(787,-9.05),
    (789,-9.25),(791,-9.45),(793,-9.65),(795,-9.84),(797,-10.00),(799,-10.12),(800.5,-10.18),(802,-10.10),
    (803.5,-10.15),(805,-10.18),(806.5,-10.12),(808,-10.25),(809.5,-10.32),(810.5,-10.10),(811.5,-9.60),
    (812.5,-8.70),(813.5,-7.70),(814.5,-7.00),(815.5,-6.60),(816.5,-6.35),(817.5,-6.32),(818.5,-6.45),
    (819.5,-6.47),(820.5,-6.40),(821.5,-6.35),(822.5,-6.33),(823.5,-6.34),(824.5,-6.37),(825.5,-6.39),
    (826.5,-6.40),(827.5,-6.38),(828.5,-6.35),(829.5,-6.31),(830.5,-6.25),(831.5,-6.13),(832.5,-6.02),
    (833.3,-6.05),(834.2,-6.50),(835,-7.40),(835.8,-8.40),(836.6,-9.40),(837.5,-10.20),(838,-10.6),(838.5,-11.3),
    (839,-10.7),(839.5,-11.3),(840,-10.65),(840.5,-11.3),(841,-10.7),(841.5,-11.3),(842,-10.6),(842.5,-11.3),
    (843,-10.75),(843.5,-11.3),(844,-10.7),(844.5,-11.3),(845,-10.8),(845.5,-11.3),(846,-10.7),(846.5,-11.3),
    (847,-10.75),(847.5,-11.3),(848,-10.7),(848.5,-11.3),(849,-10.65),(849.5,-11.3),(850,-10.55),(850.5,-11.0),
    (851,-10.45),(851.5,-10.7),(852.2,-10.32),(853,-10.35),(854,-10.25),(855,-10.18),(856.5,-10.15),(858,-10.12),
    (860,-10.10),(862,-10.04),(864,-9.98),(866,-9.90),(868,-9.78),(870,-9.62),(872,-9.45),(874,-9.28),(876,-9.12),
    (878,-8.98),(880,-8.88),(882,-8.80),(884,-8.75),(886,-8.72),(888,-8.70),(889.5,-8.72),(891,-8.78),(893,-8.86),
    (895,-8.98),(897,-9.12),(899,-9.30),(901,-9.48),(903,-9.68),(905,-9.85),(907,-10.05),(909,-10.25),
    (911,-10.45),(913,-10.65),(915,-10.78),(916,-11.3),(916.5,-10.85),(917,-11.3),(917.5,-10.9),(918.5,-11.3),
    (919,-10.95),(920,-11.3)]
BOT_YELLOW = [(750,-10.2),(750.5,-11.3),(751,-10.1),(751.5,-11.3),(752,-10.05),(752.5,-11.3),(753,-10.15),
    (753.5,-11.3),(754,-10.0),(754.5,-11.3),(755,-10.1),(755.5,-11.3),(756,-10.0),(756.5,-11.3),(757,-9.95),
    (757.5,-11.3),(758,-10.05),(758.5,-11.3),(759,-9.95),(759.5,-11.3),(760,-9.9),(760.5,-11.3),(761,-10.0),
    (761.5,-11.3),(762,-9.9),(762.5,-11.0),(763,-9.88),(763.5,-10.8),(764,-9.85),(764.5,-10.6),(765,-9.85),
    (765.5,-10.4),(766,-9.8),(766.5,-10.2),(767,-9.78),(768,-9.72),(769,-9.68),(770,-9.62),(771.5,-9.50),
    (773,-9.38),(774.5,-9.28),(776,-9.22),(777.5,-9.20),(779,-9.24),(780.5,-9.32),(782,-9.45),(783.5,-9.55),
    (785,-9.65),(786.5,-9.78),(788,-9.92),(789.5,-10.05),(791,-10.18),(792.5,-10.30),(794,-10.42),(795.5,-10.55),
    (797,-10.65),(798.5,-10.72),(800,-10.60),(801.5,-10.55),(803,-10.62),(804.5,-10.55),(806,-10.50),
    (807.5,-10.58),(809,-10.65),(810.5,-10.72),(811.5,-10.50),(812.5,-9.90),(813.5,-8.60),(814.5,-7.50),
    (815.5,-6.90),(816.5,-6.55),(817.5,-6.42),(818.5,-6.50),(819.5,-6.50),(820.5,-6.44),(821.5,-6.40),
    (822.5,-6.38),(823.5,-6.38),(824.5,-6.41),(825.5,-6.43),(826.5,-6.43),(827.5,-6.42),(828.5,-6.38),
    (829.5,-6.34),(830.5,-6.28),(831.5,-6.16),(832.5,-6.06),(833.3,-6.15),(834,-6.80),(834.8,-7.80),(835.6,-8.90),
    (836.4,-10.0),(837.2,-11.3),(864,-11.3),(864.5,-10.8),(865,-11.3),(865.5,-10.7),(866,-11.3),(866.5,-10.6),
    (867,-11.3),(867.5,-10.45),(868,-11.0),(868.5,-10.4),(869,-10.25),(870,-10.15),(871,-10.04),(873,-9.92),
    (875,-9.78),(877,-9.64),(879,-9.52),(881,-9.42),(883,-9.35),(885,-9.30),(887,-9.27),(888.5,-9.26),(890,-9.30),
    (892,-9.40),(894,-9.52),(896,-9.62),(898,-9.76),(900,-9.90),(902,-10.05),(904,-10.20),(906,-10.36),
    (908,-10.52),(910,-10.62),(912,-10.72),(913,-11.3),(913.5,-10.8),(914,-11.3),(914.5,-10.85),(915.5,-11.3),
    (916,-10.9),(917.5,-11.3)]
BOT_ORANGE = [(752,-11.3),(752.5,-10.5),(753,-11.3),(753.5,-10.45),(754,-11.3),(754.5,-10.4),(755,-11.3),
    (755.5,-10.3),(756,-11.3),(756.5,-10.25),(757,-11.3),(757.5,-10.2),(758,-11.3),(758.5,-10.15),(759,-11.3),
    (759.5,-10.2),(760,-11.3),(760.5,-10.1),(761,-11.3),(761.5,-10.05),(762,-11.3),(762.5,-10.1),(763,-11.3),
    (763.5,-10.0),(764,-11.3),(764.5,-10.05),(765,-11.3),(765.5,-9.98),(766,-11.3),(766.5,-9.95),(767,-11.0),
    (767.5,-9.95),(768,-10.7),(768.5,-9.92),(769,-10.4),(769.5,-9.92),(770,-9.96),(771,-9.90),(772.5,-9.82),
    (774,-9.68),(775.5,-9.58),(777,-9.50),(778.5,-9.48),(780,-9.52),(781.5,-9.60),(783,-9.70),(784.5,-9.80),
    (786,-9.92),(787.5,-10.05),(789,-10.18),(790.5,-10.30),(792,-10.45),(793.5,-10.58),(795,-10.70),
    (796.3,-10.85),(797.5,-11.3),(811,-11.3),(812,-10.9),(813,-10.20),(814,-8.80),(815,-7.70),(816,-7.05),
    (817,-6.70),(818,-6.55),(819,-6.55),(820,-6.48),(821,-6.45),(822,-6.43),(823,-6.42),(824,-6.44),(825,-6.46),
    (826,-6.48),(827,-6.47),(828,-6.45),(829,-6.40),(830,-6.35),(831,-6.25),(832,-6.12),(833,-6.10),(833.8,-6.60),
    (834.6,-7.80),(835.4,-9.20),(836.2,-10.6),(837,-11.3),(868,-11.3),(868.5,-10.9),(869,-11.3),(869.5,-10.8),
    (870,-11.3),(870.5,-10.7),(871,-11.2),(871.5,-10.6),(872,-10.9),(872.5,-10.5),(873,-10.40),(874.5,-10.30),
    (876,-10.18),(877.5,-10.08),(879,-9.95),(880.5,-9.82),(882,-9.72),(883.5,-9.65),(885,-9.60),(886.5,-9.56),
    (888,-9.52),(889.5,-9.55),(891,-9.62),(892.5,-9.68),(894,-9.75),(895.5,-9.82),(897,-9.90),(898.5,-9.98),
    (900,-10.04),(901.5,-10.12),(903,-10.22),(904.5,-10.35),(906,-10.50),(907.5,-10.65),(909,-10.80),
    (910.5,-10.92),(912,-11.3)]
BOT_RED = [(757,-11.3),(757.5,-10.6),(758,-11.3),(762,-11.3),(762.5,-10.7),(763,-11.3),(763.5,-10.6),
    (764,-11.3),(764.5,-10.5),(765,-11.3),(765.5,-10.6),(766,-11.3),(766.5,-10.4),(767,-11.3),(767.5,-10.2),
    (768,-11.3),(768.5,-10.35),(769,-11.3),(769.5,-10.1),(770,-11.3),(770.5,-10.3),(771,-11.3),(771.5,-10.15),
    (772,-11.3),(772.5,-10.4),(773,-11.3),(773.5,-10.3),(774,-11.3),(774.5,-10.5),(775,-11.3),(775.5,-10.25),
    (776,-11.3),(776.5,-10.2),(777,-11.3),(777.5,-10.4),(778,-11.3),(778.5,-10.3),(779,-11.3),(779.5,-10.15),
    (780,-11.3),(780.5,-10.35),(781,-11.3),(781.5,-10.25),(782,-11.3),(782.5,-10.2),(783,-11.3),(783.5,-10.45),
    (784,-11.3),(784.5,-10.3),(785,-11.3),(785.5,-10.5),(786,-11.3),(786.5,-10.4),(787,-11.3),(787.5,-10.6),
    (788,-11.3),(788.5,-10.5),(789,-11.3),(789.5,-10.7),(790,-11.3),(790.5,-10.6),(791,-11.3),(791.5,-10.8),
    (792,-11.3),(792.5,-10.7),(793,-11.3),(793.5,-10.9),(794,-11.3),(794.5,-10.85),(795,-11.3),(795.5,-11.0),
    (796,-11.3),(812.5,-11.3),(813.2,-10.4),(814,-8.90),(814.8,-7.70),(815.6,-7.00),(816.5,-6.70),(817.5,-6.62),
    (818.5,-6.60),(819.5,-6.56),(820.5,-6.52),(821.5,-6.50),(822.5,-6.48),(823.5,-6.50),(824.5,-6.52),
    (825.5,-6.50),(826.5,-6.52),(827.5,-6.50),(828.5,-6.46),(829.5,-6.42),(830.5,-6.36),(831.5,-6.25),
    (832.5,-6.18),(833.3,-6.50),(834,-7.60),(834.7,-9.00),(835.4,-10.4),(836,-11.3),(869,-11.3),(869.5,-10.9),
    (870,-11.3),(870.5,-10.8),(871,-11.3),(871.5,-10.85),(872,-11.3),(872.5,-10.7),(873,-11.3),(873.5,-10.75),
    (874,-11.3),(874.5,-10.6),(875,-11.3),(875.5,-10.7),(876,-11.3),(876.5,-10.55),(877,-11.3),(877.5,-10.6),
    (878,-11.3),(878.5,-10.5),(879,-11.3),(879.5,-10.45),(880,-11.3),(880.5,-10.6),(881,-11.3),(881.5,-10.4),
    (882,-11.3),(882.5,-10.5),(883,-11.3),(883.5,-10.35),(884,-11.3),(884.5,-10.45),(885,-11.3),(885.5,-10.35),
    (886,-11.3),(886.5,-10.3),(887,-11.3),(887.5,-10.4),(888,-11.3),(888.5,-10.3),(889,-11.3),(889.5,-10.45),
    (890,-11.3),(890.5,-10.4),(891,-11.3),(891.5,-10.55),(892,-11.3),(892.5,-10.5),(893,-11.3),(893.5,-10.6),
    (894,-11.3),(894.5,-10.55),(895,-11.3),(895.5,-10.7),(896,-11.3),(896.5,-10.65),(897,-11.3),(897.5,-10.8),
    (898,-11.3),(898.5,-10.75),(899,-11.3),(899.5,-10.9),(900,-11.3),(900.5,-10.8),(901,-11.3),(901.5,-10.95),
    (902,-11.3),(902.5,-10.9),(903,-11.3),(904,-11.3),(904.5,-10.95),(905,-11.3),(906,-11.3),(906.5,-11.0),
    (907,-11.3)]

PANELS = [
    ("873", (800, 961), [(TOP_PURPLE, PURPLE), (TOP_BLUE, BLUE), (TOP_GREEN, GREEN),
                         (TOP_YELLOW, YELLOW), (TOP_ORANGE, ORANGE), (TOP_RED, RED)]),
    ("830", (718, 963), [(MID_SALMON, SALMON), (MID_BLACK, BLACK), (MID_PURPLE, PURPLE),
                         (MID_BLUE, BLUE), (MID_CYAN, CYAN), (MID_GREEN, GREEN), (MID_YELLOW, YELLOW),
                         (MID_ORANGE, ORANGE), (MID_RED, RED), (MID_GRAY, GRAY)]),
    ("825", (750, 931), [(BOT_PURPLE, PURPLE), (BOT_BLUE, BLUE), (BOT_GREEN, GREEN),
                         (BOT_YELLOW, YELLOW), (BOT_ORANGE, ORANGE), (BOT_RED, RED), (BOT_BLACK, BLACK)]),
]
AX_BOTTOMS = [0.7455, 0.3975, 0.0636]


def draw_panel(ax, inj, xlim, curves):
    for data, col in curves:
        wl, lg = np.array(data).T
        ax.plot(wl, 10.0 ** lg, color=col, lw=2.3, solid_joinstyle="miter")
    ax.set_yscale("log")
    ax.set_xlim(*xlim)
    ax.set_ylim(1e-11, 3e-6)
    ax.xaxis.set_major_locator(MultipleLocator(50))
    ax.xaxis.set_minor_locator(MultipleLocator(10))
    ax.yaxis.set_major_locator(LogLocator(base=10, numticks=10))
    ax.yaxis.set_minor_locator(NullLocator())
    ax.tick_params(which="both", direction="in", top=True, right=True, length=3, width=0.8,
                   labelsize=16, pad=5)
    ax.tick_params(axis="x", pad=9)
    for sp in ax.spines.values():
        sp.set_linewidth(1.0)
    ax.set_xlabel("Wavelength (nm)", fontsize=16, labelpad=7)
    ax.set_ylabel("Power (W)", fontsize=16, labelpad=11)
    ax.yaxis.label.set_y(0.45)
    ax.text(0.985, 0.805, r"$\mathbf{\lambda_{inj}}$= " + inj + " nm", transform=ax.transAxes,
            ha="right", va="center", fontsize=16, fontweight="bold")


fig = plt.figure(figsize=(5.35, 10.49), dpi=100)
for (inj, xlim, curves), b in zip(PANELS, AX_BOTTOMS):
    ax = fig.add_axes([0.2019, b, 0.772, 0.2479])
    draw_panel(ax, inj, xlim, curves)

fig.savefig("out.png", dpi=100)
